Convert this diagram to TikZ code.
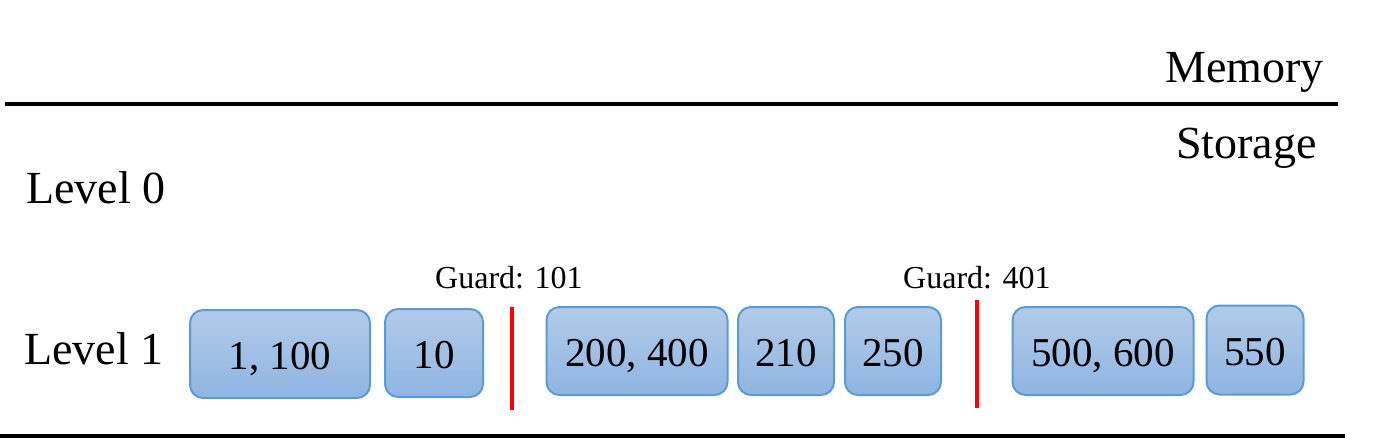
\documentclass[tikz,border=0pt]{standalone}
\usepackage{fontspec}
\setmainfont{Liberation Serif}
\definecolor{boxtop}{RGB}{178,203,233}
\definecolor{boxbot}{RGB}{143,181,225}
\definecolor{boxedge}{RGB}{91,155,213}
\definecolor{guardred}{RGB}{255,0,0}
\tikzset{
  sst/.style={draw=boxedge, line width=2pt, rounded corners=13pt,
    top color=boxtop, bottom color=boxbot, inner sep=0pt,
    text height=30pt, text depth=0pt,
    font=\fontsize{41}{48}\selectfont},
  lvl/.style={font=\fontsize{46}{54}\selectfont, inner sep=0pt, anchor=base west},
  side/.style={font=\fontsize{46}{54}\selectfont, inner sep=0pt, anchor=base west},
  sep/.style={line width=4.5pt},
  guard/.style={draw=guardred, line width=4pt},
  glabel/.style={font=\fontsize{32}{38}\selectfont, inner sep=0pt, anchor=base west}
}
\begin{document}
\begin{tikzpicture}[x=1pt,y=-1pt]
\useasboundingbox (0,0) rectangle (1397,445);
% separator lines
\coordinate (t1) at (5,104);
\coordinate (t2) at (1338,104);
\coordinate (b1) at (0,436);
\coordinate (b2) at (1345,436);
\draw[sep] (t1) -- (t2);
\draw[sep] (b1) -- (b2);
% labels
\node[side] (mem) at (1165,82) {Memory};
\node[side] (sto) at (1176,158) {Storage};
\node[lvl] (l0) at (26,203) {Level 0};
\node[lvl] (l1) at (24,364) {Level 1};
% SSTables
\node[sst, minimum width=180pt, minimum height=88pt] (s1) at (280,354) {1, 100};
\node[sst, minimum width=98pt, minimum height=88pt] (s2) at (434,353) {10};
\node[sst, minimum width=181pt, minimum height=88pt] (s3) at (637,351) {200, 400};
\node[sst, minimum width=96pt, minimum height=88pt] (s4) at (786,351) {210};
\node[sst, minimum width=96pt, minimum height=88pt] (s5) at (893,351) {250};
\node[sst, minimum width=181pt, minimum height=88pt] (s6) at (1103,351) {500, 600};
\node[sst, minimum width=97pt, minimum height=89pt] (s7) at (1255,350) {550};
% guards
\coordinate (g1a) at (512,307);
\coordinate (g1b) at (512,410);
\coordinate (g2a) at (977,300);
\coordinate (g2b) at (977,408);
\draw[guard] (g1a) -- (g1b);
\draw[guard] (g2a) -- (g2b);
\node[glabel] (gl1) at (435,288) {Guard: 101};
\node[glabel] (gl2) at (903,288) {Guard: 401};
\end{tikzpicture}
\end{document}
